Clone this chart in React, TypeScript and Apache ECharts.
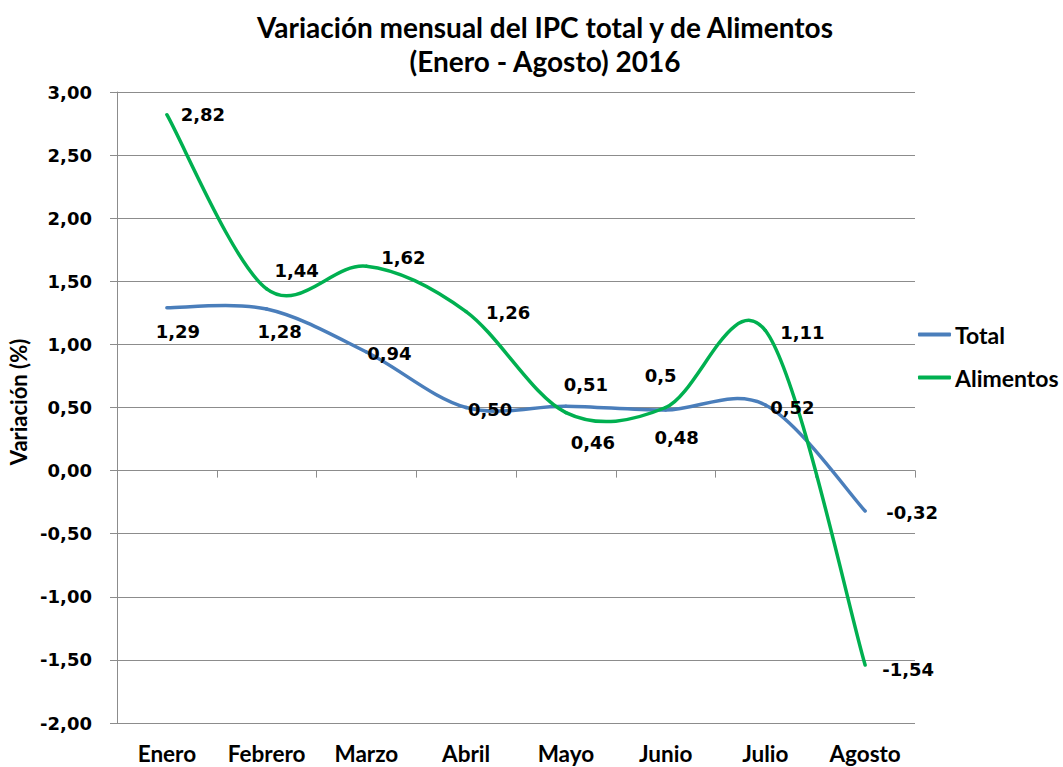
import React, { useEffect, useRef } from "react";
import * as echarts from "echarts";

const months = ["Enero", "Febrero", "Marzo", "Abril", "Mayo", "Junio", "Julio", "Agosto"];
const totalValues = [1.29, 1.28, 0.94, 0.5, 0.51, 0.48, 0.52, -0.32];
const alimentosValues = [2.82, 1.44, 1.62, 1.26, 0.46, 0.5, 1.11, -1.54];
const totalLabels = ["1,29", "1,28", "0,94", "0,50", "0,51", "0,48", "0,52", "-0,32"];
const alimentosLabels = ["2,82", "1,44", "1,62", "1,26", "0,46", "0,5", "1,11", "-1,54"];
const yMin = -2;
const yMax = 3;
const yInterval = 0.5;

const totalLabelOffsets = [[11, 24], [13, 22], [23, 2], [24, 2], [20, -22], [11, 27], [27, 3], [47, 2]];
const alimentosLabelOffsets = [[36, 0], [30, -18], [37, -9], [42, 1], [27, 30], [-5, -32], [37, 2], [43, 5]];

const CAL = "Lato, 'Open Sans', sans-serif";
const VER = "'DejaVu Sans', Verdana, sans-serif";
const GRID_COLOR = "#8c8c8c";
const BLUE = "#4A7EBB";
const GREEN = "#00B050";

function buildLabelData(values: number[], labels: string[], offsets: number[][]) {
  return values.map((v, i) => ({
    value: v,
    label: { formatter: labels[i], offset: offsets[i] },
  }));
}

// Excel-like smoothed line: Catmull-Rom style Bezier segments in pixel space
function makeCurveSeries(name: string, values: number[], color: string, z: number) {
  const n = values.length;
  return {
    name,
    type: "custom",
    xAxisIndex: 0,
    yAxisIndex: 0,
    itemStyle: { color },
    encode: { x: 0, y: 1 },
    data: values.map((v, i) => [i, v]),
    z,
    renderItem: (params: any, api: any) => {
      const i = params.dataIndex;
      if (i >= n - 1) return { type: "group", children: [] };
      const pt = (k: number) => {
        const kk = Math.max(0, Math.min(n - 1, k));
        return api.coord([kk, values[kk]]);
      };
      const p0 = pt(i - 1);
      const p1 = pt(i);
      const p2 = pt(i + 1);
      const p3 = pt(i + 2);
      return {
        type: "bezierCurve",
        silent: true,
        shape: {
          x1: p1[0],
          y1: p1[1],
          x2: p2[0],
          y2: p2[1],
          cpx1: p1[0] + (p2[0] - p0[0]) / 6,
          cpy1: p1[1] + (p2[1] - p0[1]) / 6,
          cpx2: p2[0] - (p3[0] - p1[0]) / 6,
          cpy2: p2[1] - (p3[1] - p1[1]) / 6,
        },
        style: { stroke: color, lineWidth: 3.5, fill: "none", lineCap: "round", lineJoin: "round" },
      };
    },
  };
}

export default function App() {
  const ref = useRef<HTMLDivElement>(null);
  useEffect(() => {
    if (!ref.current) return;
    const chart = echarts.init(ref.current, undefined, { renderer: "svg" });
    const labelStyle = {
      show: true,
      position: "inside",
      align: "center",
      verticalAlign: "middle",
      color: "#000",
      fontFamily: VER,
      fontWeight: "bold",
      fontSize: 18,
    };
    const labelSeries = (name: string, data: any[], color: string) => ({
      name,
      type: "line",
      xAxisIndex: 0,
      symbol: "circle",
      symbolSize: 0.1,
      showSymbol: true,
      itemStyle: { color },
      lineStyle: { width: 0, opacity: 0 },
      label: labelStyle,
      data,
      z: 6,
      silent: true,
    });
    chart.setOption({
      animation: false,
      backgroundColor: "#fff",
      title: {
        text: "Variación mensual del IPC total y de Alimentos\n(Enero - Agosto) 2016",
        left: 545,
        top: 10,
        padding: 0,
        textAlign: "center",
        textStyle: {
          fontFamily: CAL,
          fontWeight: "bold",
          fontSize: 28,
          lineHeight: 34,
          color: "#000",
        },
      },
      legend: {
        orient: "vertical",
        left: 918,
        top: 323,
        icon: "roundRect",
        itemWidth: 33,
        itemHeight: 4,
        itemGap: 20,
        padding: 0,
        textStyle: { fontFamily: CAL, fontWeight: "bold", fontSize: 23, color: "#000", padding: [0, 0, 0, -1] },
        data: ["Total", "Alimentos"],
      },
      grid: { left: 117, right: 148, top: 92, bottom: 44, containLabel: false },
      xAxis: [
        {
          type: "category",
          data: months,
          boundaryGap: true,
          axisLine: { show: true, onZero: true, lineStyle: { color: GRID_COLOR, width: 1 } },
          axisTick: { show: true, length: 7, alignWithLabel: false, lineStyle: { color: GRID_COLOR } },
          axisLabel: { show: false },
          splitLine: { show: false },
        },
        {
          type: "category",
          data: months,
          position: "bottom",
          boundaryGap: true,
          axisLine: { show: false, onZero: false },
          axisTick: { show: false },
          axisLabel: {
            show: true,
            interval: 0,
            margin: 19,
            color: "#000",
            fontFamily: CAL,
            fontWeight: "bold",
            fontSize: 22.5,
          },
          splitLine: { show: false },
        },
      ],
      yAxis: {
        type: "value",
        min: yMin,
        max: yMax,
        interval: yInterval,
        axisLine: { show: true, lineStyle: { color: GRID_COLOR, width: 1 } },
        axisTick: { show: true, length: 7, inside: false, lineStyle: { color: GRID_COLOR } },
        axisLabel: {
          margin: 25,
          color: "#000",
          fontFamily: VER,
          fontWeight: "bold",
          fontSize: 18,
          formatter: (v: number) => v.toFixed(2).replace(".", ","),
        },
        splitLine: { show: true, lineStyle: { color: GRID_COLOR, width: 1 } },
      },
      graphic: [
        {
          type: "text",
          x: 18,
          y: 402,
          rotation: Math.PI / 2,
          style: {
            text: "Variación (%)",
            fontFamily: CAL,
            fontWeight: "bold",
            fontSize: 22,
            fill: "#000",
            align: "center",
            verticalAlign: "middle",
          },
        },
      ],
      series: [
        makeCurveSeries("Total", totalValues, BLUE, 3),
        makeCurveSeries("Alimentos", alimentosValues, GREEN, 4),
        labelSeries("Total etiquetas", buildLabelData(totalValues, totalLabels, totalLabelOffsets), BLUE),
        labelSeries(
          "Alimentos etiquetas",
          buildLabelData(alimentosValues, alimentosLabels, alimentosLabelOffsets),
          GREEN
        ),
      ],
    });
    return () => chart.dispose();
  }, []);
  return (
    <div
      ref={ref}
      style={{ position: "fixed", left: 0, top: 0, width: 1063, height: 767, background: "#fff" }}
    />
  );
}
